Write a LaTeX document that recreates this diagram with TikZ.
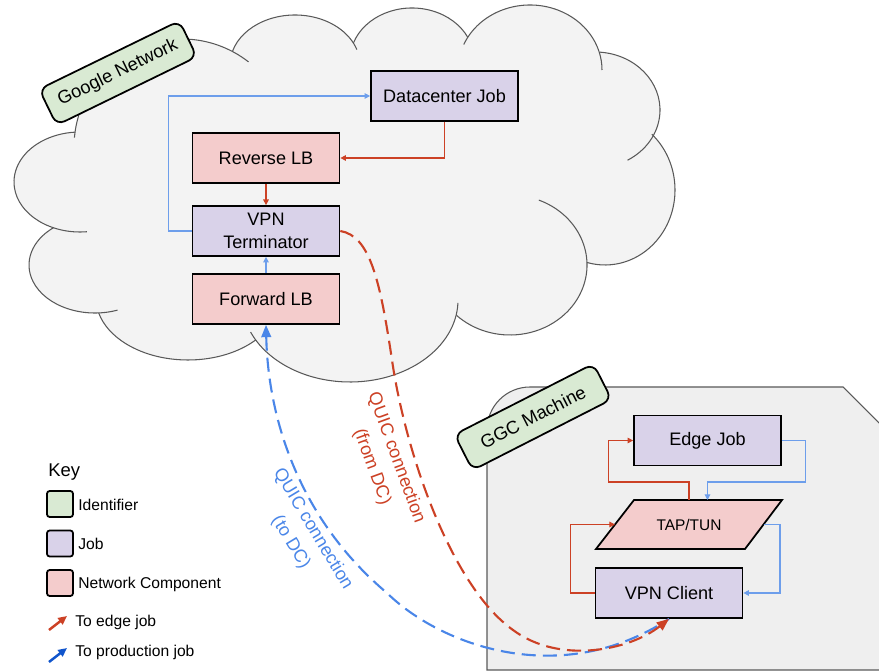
\documentclass[tikz,border=0pt]{standalone}
\usepackage{fontspec}
\setmainfont{Liberation Sans}
\usetikzlibrary{arrows.meta,calc}

\definecolor{jobfill}{HTML}{D9D2E9}
\definecolor{netfill}{HTML}{F4CCCC}
\definecolor{idfill}{HTML}{D9EAD3}
\definecolor{cloudfill}{HTML}{F3F3F3}
\definecolor{ggcfill}{HTML}{EFEFEF}
\definecolor{edgegray}{HTML}{595959}
\definecolor{linkred}{HTML}{CC4125}
\definecolor{linkblue}{HTML}{6D9EEB}
\definecolor{quicblue}{HTML}{4A86E8}
\definecolor{keyblue}{HTML}{1155CC}

\tikzset{
  block/.style={draw=black, line width=1pt, minimum width=2.94cm, minimum height=1cm,
    align=center, inner sep=2pt, font=\fontsize{10.3}{13}\selectfont},
  job/.style={block, fill=jobfill},
  netcomp/.style={block, fill=netfill},
  idtag/.style={draw=black, line width=1pt, fill=idfill, rounded corners=5pt,
    minimum width=3.12cm, minimum height=0.8cm, font=\fontsize{10.4}{12}\selectfont},
  cloudedge/.style={draw=edgegray, line width=0.6pt},
  redlink/.style={draw=linkred, line width=0.6pt, -{Triangle[length=3.2pt,width=3.2pt]}},
  bluelink/.style={draw=linkblue, line width=0.6pt, -{Triangle[length=3.2pt,width=3.2pt]}},
  quic/.style={line width=1.2pt, dash pattern=on 8pt off 4pt},
  quiclabel/.style={align=center, inner sep=0pt, font=\fontsize{10.3}{14.7}\selectfont},
  keybox/.style={draw=black, line width=1pt, rounded corners=1.5pt, minimum size=0.52cm, inner sep=0pt},
  keytext/.style={anchor=west, inner sep=0pt, font=\fontsize{8.9}{10}\selectfont},
  keyarrow/.style={line width=1.4pt, -{Triangle[length=5pt,width=4.5pt]}}
}

\begin{document}
\begin{tikzpicture}[x=0.02cm, y=-0.02cm]
  \useasboundingbox (0,0) rectangle (879,671);
  \clip (0,0) rectangle (879,671);

  % Google Network cloud (bubbles: centre, radii, visible arc)
  \foreach \cx/\cy/\rx/\ry/\a/\b in {80/182/66/50/84/266, 95/265/66/48/70/231,
      188/298/92/62/42.5/166, 350/300/108/82/2/157, 510/265/77/70/-68/134,
      605/190/70/75/-48/105, 595/110/65/58/-86/60, 530/70/72/65/203/360,
      412/60/62/52/199/334, 295/65/65/50/196/342, 182/147/108/108/185/308}
    \fill[cloudfill] (\cx,\cy) ellipse [x radius=\rx, y radius=\ry];
  \fill[cloudfill] (80,182) -- (182,147) -- (295,65) -- (412,60) -- (530,70) -- (595,110)
    -- (605,190) -- (510,265) -- (350,300) -- (188,298) -- (95,265) -- cycle;
  \foreach \cx/\cy/\rx/\ry/\a/\b in {80/182/66/50/84/266, 95/265/66/48/70/231,
      188/298/92/62/42.5/166, 350/300/108/82/2/157, 510/265/77/70/-68/134,
      605/190/70/75/-48/105, 595/110/65/58/-86/60, 530/70/72/65/203/360,
      412/60/62/52/199/334, 295/65/65/50/196/342, 182/147/108/108/185/308}
    \draw[cloudedge] ([shift={({\rx*cos(\a)},{\ry*sin(\a)})}]\cx,\cy)
      arc[start angle=\a, end angle=\b, x radius=\rx, y radius=\ry];
  \node[idtag, rotate=26] (gnet) at (118,73) {Google Network};

  % GGC machine
  \draw[cloudedge, fill=ggcfill] (487,670) -- (487,430) arc[start angle=180, end angle=270, radius=43]
    -- (843,387) -- (900,444) -- (900,670) -- cycle;
  \node[idtag, rotate=27] (ggc) at (533,417) {GGC Machine};

  % Jobs and network components
  \node[job] (dcjob) at (444.5,96) {Datacenter Job};
  \node[netcomp] (revlb) at (266,158) {Reverse LB};
  \node[job] (vpnterm) at (266,231) {VPN\\Terminator};
  \node[netcomp] (fwdlb) at (266,299) {Forward LB};
  \node[job] (edgejob) at (707.5,440.5) {Edge Job};
  \node[job] (vpnclient) at (669,593) {VPN Client};

  % TAP/TUN parallelogram
  \coordinate (tapTL) at (634,500);
  \coordinate (tapTR) at (782,500);
  \coordinate (tapBR) at (745,549);
  \coordinate (tapBL) at (596,549);
  \draw[line width=1pt, fill=netfill] (tapTL) -- (tapTR) -- (tapBR) -- (tapBL) -- cycle;
  \node[font=\fontsize{8.8}{10}\selectfont] (taptun) at (689,524.5) {TAP/TUN};
  \coordinate (tapL) at ($(tapTL)!0.5!(tapBL)$);
  \coordinate (tapR) at ($(tapTR)!0.5!(tapBR)$);

  % Links inside the Google network
  \draw[bluelink] (vpnterm.west) -- ++(-23,0) |- (dcjob.west);
  \draw[redlink] (dcjob.south) |- (revlb.east);
  \draw[redlink] (revlb.south) -- (vpnterm.north);
  \draw[bluelink] (fwdlb.north) -- (vpnterm.south);

  % Links inside the GGC machine
  \draw[redlink] (taptun |- tapTL) -- ++(0,-18) -| ($(edgejob.west)+(-25,0)$) -- (edgejob.west);
  \draw[bluelink] (edgejob.east) -- ++(24,0) -- ++(0,41.5) -| (edgejob |- tapTL);
  \draw[redlink] (vpnclient.west) -- ++(-24,0) |- (tapL);
  \draw[bluelink] (tapR) -- ++(16.5,0) |- (vpnclient.east);

  % QUIC connections
  \draw[quic, quicblue, {Triangle[length=7pt,width=5.5pt]}-] (fwdlb.south)
    .. controls (268,420) and (300,520) .. (387,593)
    .. controls (440,645) and (560,690) .. (vpnclient.south);
  \draw[quic, linkred, -{Triangle[length=7pt,width=5.5pt]}] (vpnterm.east)
    .. controls (370,236) and (380,280) .. (392,360)
    .. controls (405,450) and (450,585) .. (513,630)
    .. controls (560,665) and (630,650) .. (vpnclient.south);
  \node[quiclabel, text=linkred, rotate=-70] (quicfrom) at (384,462.5) {QUIC connection\\(from DC)};
  \node[quiclabel, text=quicblue, rotate=-59] (quicto) at (301.7,535.8) {QUIC connection\\(to DC)};

  % Key
  \node[anchor=west, inner sep=0pt, font=\fontsize{10.5}{12}\selectfont] (keytitle) at (48,472) {Key};
  \node[keybox, fill=idfill] (keyid) at (60,504) {};
  \node[keybox, fill=jobfill] (keyjob) at (60,543.5) {};
  \node[keybox, fill=netfill] (keynet) at (60,583) {};
  \node[keytext] (keyidtxt) at (78,505) {Identifier};
  \node[keytext] (keyjobtxt) at (78,544) {Job};
  \node[keytext] (keynettxt) at (78,584) {Network Component};
  \node[keytext] (keyedge) at (75,622) {To edge job};
  \node[keytext] (keyprod) at (75,652) {To production job};
  \draw[keyarrow, linkred] ($(keyedge.west)+(-26,8)$) -- ++(18,-14);
  \draw[keyarrow, keyblue] ($(keyprod.west)+(-26,10)$) -- ++(18,-14);
\end{tikzpicture}
\end{document}
